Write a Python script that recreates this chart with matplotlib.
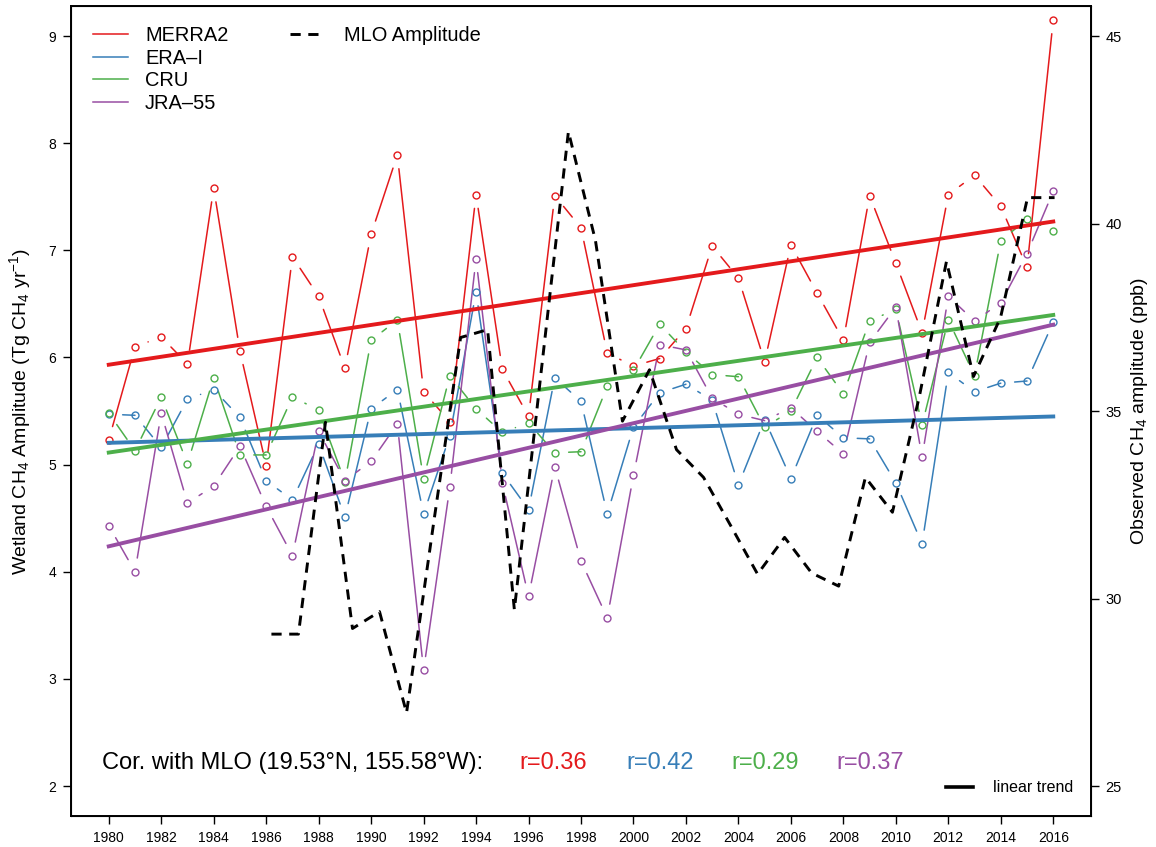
import numpy as np
import matplotlib.pyplot as plt
from matplotlib.lines import Line2D

plt.rcParams['font.family'] = ['Liberation Sans', 'DejaVu Sans']
plt.rcParams['mathtext.default'] = 'regular'

# wetland CH4 amplitude per reanalysis (Tg CH4 / yr)
years = np.arange(1980, 2017)
merra2 = [5.23, 6.10, 6.19, 5.94, 7.58, 6.06, 4.99, 6.94, 6.57, 5.90,
          7.15, 7.89, 5.68, 5.40, 7.52, 5.89, 5.45, 7.51, 7.21, 6.04,
          5.92, 5.99, 6.27, 7.04, 6.74, 5.96, 7.05, 6.60, 6.16, 7.51,
          6.88, 6.23, 7.52, 7.70, 7.41, 6.84, 9.15]
era_i = [5.47, 5.46, 5.16, 5.61, 5.70, 5.44, 4.85, 4.67, 5.19, 4.51,
         5.52, 5.70, 4.54, 5.27, 6.61, 4.92, 4.58, 5.81, 5.59, 4.54,
         5.35, 5.67, 5.75, 5.60, 4.81, 5.42, 4.87, 5.46, 5.25, 5.24,
         4.83, 4.26, 5.86, 5.68, 5.76, 5.78, 6.33]
cru = [5.48, 5.13, 5.63, 5.01, 5.81, 5.09, 5.09, 5.63, 5.51, 4.84,
       6.16, 6.35, 4.87, 5.83, 5.52, 5.30, 5.39, 5.11, 5.12, 5.73,
       5.88, 6.31, 6.05, 5.84, 5.82, 5.35, 5.50, 6.00, 5.66, 6.34,
       6.45, 5.37, 6.35, 5.83, 7.09, 7.29, 7.18]
jra55 = [4.43, 4.00, 5.48, 4.64, 4.80, 5.17, 4.61, 4.15, 5.31, 4.85,
         5.03, 5.38, 3.08, 4.79, 6.92, 4.83, 3.77, 4.98, 4.10, 3.57,
         4.90, 6.12, 6.07, 5.62, 5.47, 5.41, 5.53, 5.31, 5.10, 6.14,
         6.47, 5.07, 6.57, 6.34, 6.51, 6.97, 7.55]

# observed amplitude at Mauna Loa (ppb)
mlo_x = [1986.20, 1987.23, 1988.26, 1989.29, 1990.32, 1991.35, 1992.38,
         1993.41, 1994.44, 1995.46, 1996.49, 1997.52, 1998.55, 1999.58,
         2000.61, 2001.64, 2002.67, 2003.70, 2004.73, 2005.76, 2006.79,
         2007.82, 2008.84, 2009.87, 2010.90, 2011.93, 2012.96, 2013.99,
         2015.02, 2016.05]
mlo_amp = [29.05, 29.05, 34.70, 29.20, 29.65, 26.95, 32.00, 36.96, 37.17,
           29.70, 36.10, 42.45, 39.55, 34.73, 36.10, 33.97, 33.23, 31.95,
           30.65, 31.63, 30.68, 30.33, 33.23, 32.30, 35.40, 38.99, 35.92,
           37.49, 40.69, 40.69]

names = ['MERRA2', 'ERA–I', 'CRU', 'JRA–55']
cor_r = ['r=0.36', 'r=0.42', 'r=0.29', 'r=0.37']
colors = ['#E41A1C', '#377EB8', '#4DAF4A', '#984EA3']
series = [merra2, era_i, cru, jra55]

fig = plt.figure(figsize=(11.56, 8.47), dpi=100)
ax = fig.add_axes([0.0614, 0.0366, 0.8824, 0.9563])
ax.set_xlim(1978.56, 2017.44)
ax.set_ylim(1.72, 9.28)

# R style type="b": open points, segments stopped short of each point
for vals, c in zip(series, colors):
    ax.plot(years, vals, 'o', ms=5, mfc='none', mec=c, mew=1.0, zorder=3)
    for i in range(len(years) - 1):
        ax.annotate('', xy=(years[i + 1], vals[i + 1]), xytext=(years[i], vals[i]),
                    arrowprops=dict(arrowstyle='-', color=c, lw=1.1,
                                    shrinkA=10, shrinkB=10), zorder=2)

# linear trends
for vals, c in zip(series, colors):
    slope, icpt = np.polyfit(years, vals, 1)
    ax.plot(years[[0, -1]], slope * years[[0, -1]] + icpt, color=c, lw=2.8, zorder=4)

ax.set_xticks(np.arange(1980, 2017, 2))
ax.set_yticks(np.arange(2, 10))
ax.tick_params(axis='both', direction='out', length=5.5, width=1, labelsize=10, pad=5)
ax.set_ylabel('Wetland CH$_4$ Amplitude (Tg CH$_4$ yr$^{-1}$)', fontsize=14, labelpad=11)
for s in ax.spines.values():
    s.set_linewidth(1.4)

ax2 = ax.twinx()
ax2.set_ylim(24.2, 45.8)
ax2.plot(mlo_x, mlo_amp, color='black', lw=2.1, ls=(0, (3.5, 2.6)), zorder=5)
ax2.set_yticks([25, 30, 35, 40, 45])
ax2.tick_params(axis='y', direction='out', length=5.5, width=1, labelsize=10.5, pad=5)
ax2.set_ylabel('Observed CH$_4$ amplitude (ppb)', fontsize=14, labelpad=5)

# legends
h1 = [Line2D([], [], color=c, lw=1.1) for c in colors]
leg1 = ax2.legend(h1, names, loc='upper left', bbox_to_anchor=(0.0216, 0.975),
                  frameon=False, fontsize=14.4, handlelength=1.75, handletextpad=0.85,
                  labelspacing=0.18, borderpad=0, borderaxespad=0)
ax2.add_artist(leg1)
leg2 = ax2.legend([Line2D([], [], color='black', lw=2.1, ls=(0, (3.5, 2.6)))],
                  ['MLO Amplitude'], loc='upper left', bbox_to_anchor=(0.2147, 0.975),
                  frameon=False, fontsize=14.4, handlelength=1.4, handletextpad=1.3,
                  borderpad=0, borderaxespad=0)
ax2.add_artist(leg2)
ax2.legend([Line2D([], [], color='black', lw=2.6)], ['linear trend'],
           loc='center left', bbox_to_anchor=(0.858, 0.0346), frameon=False,
           fontsize=11.5, handlelength=1.7, handletextpad=1.2, borderpad=0, borderaxespad=0)

ax.text(0.0300, 0.0654, 'Cor. with MLO (19.53°N, 155.58°W):', transform=ax.transAxes,
        fontsize=17, va='center', ha='left')
for xpos, txt, c in zip([0.440, 0.544, 0.647, 0.750], cor_r, colors):
    ax.text(xpos, 0.0654, txt, transform=ax.transAxes, fontsize=17, color=c,
            va='center', ha='left')

fig.savefig('out.png', dpi=100)
